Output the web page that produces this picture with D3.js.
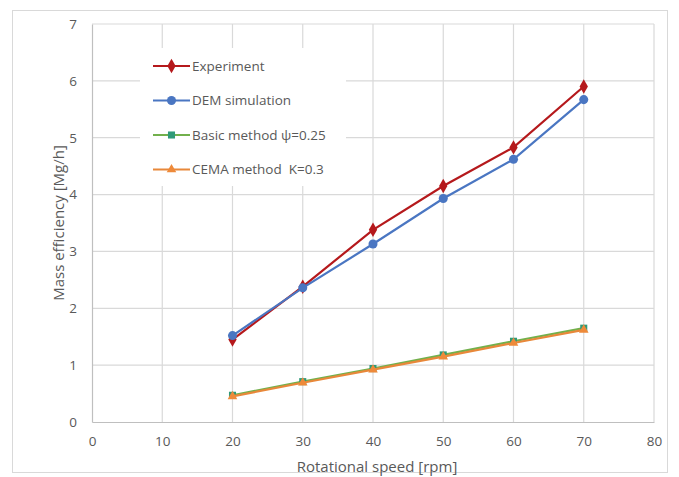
<!DOCTYPE html>
<html>
<head>
<meta charset="utf-8">
<script src="https://cdn.jsdelivr.net/npm/d3@7"></script>
<style>
  body { margin: 0; background: #fff; overflow: hidden; }
  svg { display: block; }
  svg text { font-family: "Open Sans", Lato, sans-serif; fill: #595959; white-space: pre; }
</style>
</head>
<body>
<div id="svg-container"></div>
<script>
// data
const speeds = [20, 30, 40, 50, 60, 70]
const experiment = [1.45, 2.38, 3.38, 4.15, 4.83, 5.90]
const demSimulation = [1.52, 2.36, 3.13, 3.93, 4.62, 5.67]
const basicMethod = [0.47, 0.71, 0.94, 1.18, 1.42, 1.65]
const cemaMethod = [0.45, 0.69, 0.92, 1.15, 1.39, 1.62]
const xTicks = [0, 10, 20, 30, 40, 50, 60, 70, 80]
const yTicks = [0, 1, 2, 3, 4, 5, 6, 7]
const seriesNames = ['Experiment', 'DEM simulation', 'Basic method \u03c8=0.25', 'CEMA method  K=0.3']

const series = [
    { name: seriesNames[0], values: experiment, color: '#b5191c', marker: d3.symbolDiamond, mcolor: '#b5191c', msize: 60 },
    { name: seriesNames[1], values: demSimulation, color: '#4a76c2', marker: d3.symbolCircle, mcolor: '#4a76c2', msize: 64 },
    { name: seriesNames[2], values: basicMethod, color: '#72b04c', marker: d3.symbolSquare, mcolor: '#2f9a78', msize: 50 },
    { name: seriesNames[3], values: cemaMethod, color: '#e8883a', marker: d3.symbolTriangle, mcolor: '#ee8a3a', msize: 40 }
]

const width = 679
const height = 477
const margin = { top: 24, right: 25, bottom: 55, left: 92 }
const innerWidth = width - margin.left - margin.right
const innerHeight = height - margin.top - margin.bottom

const svg = d3.select('#svg-container').append('svg')
    .attr('width', width).attr('height', height)

//rand om de grafiek
svg.append('rect')
    .attr('x', 12.5).attr('y', 10.5)
    .attr('width', 655).attr('height', 462)
    .attr('fill', 'none').attr('stroke', '#d9d9d9')

const xScale = d3.scaleLinear().domain([0, 80]).range([0, innerWidth])
const yScale = d3.scaleLinear().domain([0, 7]).range([innerHeight, 0])

const g = svg.append('g')
    .attr('transform', `translate(${margin.left}, ${margin.top})`)

//gridlijnen
g.append('g').selectAll('line').data(xTicks.slice(1))
    .enter().append('line')
    .attr('x1', d => xScale(d)).attr('x2', d => xScale(d))
    .attr('y1', 0).attr('y2', innerHeight)
    .attr('stroke', '#d9d9d9').attr('stroke-width', 1.2)
g.append('g').selectAll('line').data(yTicks.slice(1))
    .enter().append('line')
    .attr('x1', 0).attr('x2', innerWidth)
    .attr('y1', d => yScale(d)).attr('y2', d => yScale(d))
    .attr('stroke', '#d9d9d9').attr('stroke-width', 1.2)

//assen
const xAxis = g.append('g')
    .attr('transform', `translate(0, ${innerHeight})`)
    .call(d3.axisBottom(xScale).tickValues(xTicks).tickFormat(d3.format('d')).tickSize(0).tickPadding(14))
const yAxis = g.append('g')
    .call(d3.axisLeft(yScale).tickValues(yTicks).tickFormat(d3.format('d')).tickSize(0).tickPadding(15))
xAxis.select('.domain').attr('stroke', '#bfbfbf').attr('stroke-width', 1.2)
yAxis.select('.domain').attr('stroke', '#bfbfbf').attr('stroke-width', 1.2)
svg.selectAll('.tick text').style('font-size', '13.5px').style('font-family', '"Open Sans", sans-serif').attr('fill', '#595959')

//legenda achtergrond
const legend = g.append('g').attr('transform', 'translate(48, 24)')
legend.append('rect')
    .attr('x', 0).attr('y', 0).attr('width', 206).attr('height', 138)
    .attr('fill', '#fff')

//lijnen
const line = d3.line()
    .x((d, i) => xScale(speeds[i]))
    .y(d => yScale(d))

series.forEach(s => {
    g.append('path').datum(s.values)
        .attr('d', line)
        .attr('fill', 'none')
        .attr('stroke', s.color)
        .attr('stroke-width', 2.2)
    g.append('g').selectAll('path').data(s.values)
        .enter().append('path')
        .attr('d', d3.symbol().type(s.marker).size(s.msize))
        .attr('transform', (d, i) => `translate(${xScale(speeds[i])}, ${yScale(d)})`)
        .attr('fill', s.mcolor)
})

//legenda items
series.forEach((s, i) => {
    const item = legend.append('g').attr('transform', `translate(13, ${18 + i * 34.5})`)
    item.append('line')
        .attr('x1', 0).attr('x2', 37).attr('y1', 0).attr('y2', 0)
        .attr('stroke', s.color).attr('stroke-width', 2.2)
    item.append('path')
        .attr('d', d3.symbol().type(s.marker).size(s.msize))
        .attr('transform', 'translate(18.5, 0)')
        .attr('fill', s.mcolor)
    item.append('text')
        .attr('x', 39).attr('y', 0).attr('dy', '0.35em')
        .style('font-size', '13.5px')
        .text(s.name)
})

//as titels
svg.append('text')
    .attr('x', margin.left + xScale(40) + 4).attr('y', 467).attr('dy', '0.35em')
    .attr('text-anchor', 'middle')
    .style('font-size', '15px')
    .text('Rotational speed [rpm]')
svg.append('text')
    .attr('transform', `translate(59, ${margin.top + innerHeight / 2}) rotate(-90)`)
    .attr('dy', '0.35em')
    .attr('text-anchor', 'middle')
    .style('font-size', '15px')
    .text('Mass efficiency [Mg/h]')
</script>
</body>
</html>
